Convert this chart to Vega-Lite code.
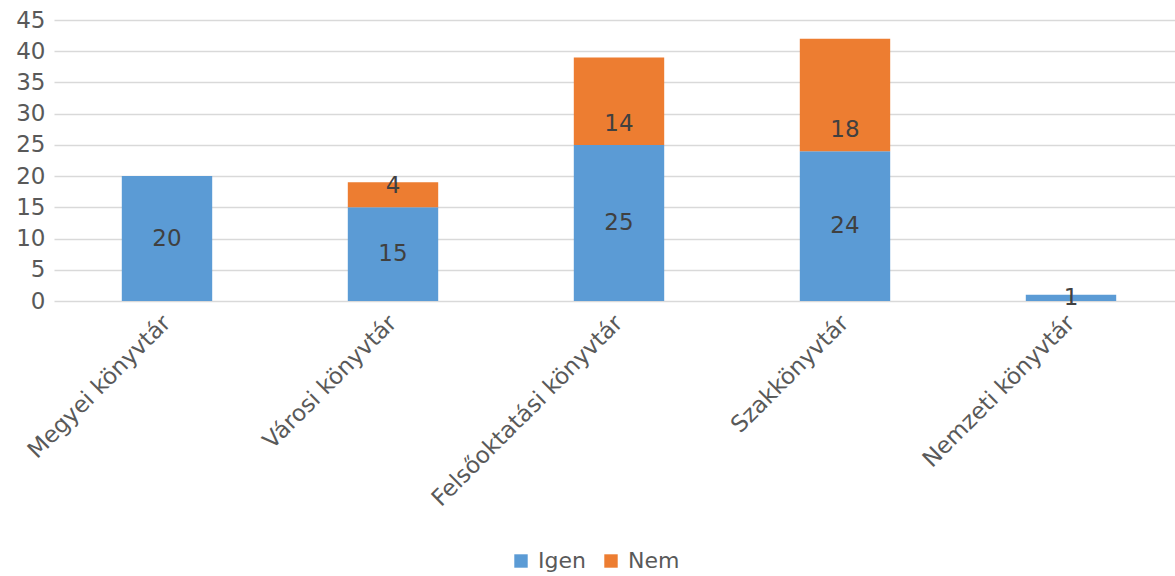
{
  "$schema": "https://vega.github.io/schema/vega-lite/v6.json",
  "autosize": {"type": "none"},
  "width": 1121,
  "height": 281,
  "padding": {"left": 54, "top": 20, "right": 0, "bottom": 275},
  "background": "white",
  "config": {
    "font": "DejaVu Sans",
    "view": {"stroke": null},
    "axisY": {
      "title": null,
      "labelFontSize": 23,
      "labelColor": "#595959",
      "labelPadding": 9,
      "labelOverlap": false,
      "labelBound": false,
      "ticks": false,
      "domain": false,
      "grid": true,
      "gridColor": "#d9d9d9",
      "gridWidth": 1.5
    }
  },
  "data": {
    "values": [
      {"cat": "Megyei könyvtár", "order": 1, "series": "Igen", "value": 20},
      {"cat": "Városi könyvtár", "order": 1, "series": "Igen", "value": 15},
      {"cat": "Városi könyvtár", "order": 2, "series": "Nem", "value": 4},
      {"cat": "Felsőoktatási könyvtár", "order": 1, "series": "Igen", "value": 25},
      {"cat": "Felsőoktatási könyvtár", "order": 2, "series": "Nem", "value": 14},
      {"cat": "Szakkönyvtár", "order": 1, "series": "Igen", "value": 24},
      {"cat": "Szakkönyvtár", "order": 2, "series": "Nem", "value": 18},
      {"cat": "Nemzeti könyvtár", "order": 1, "series": "Igen", "value": 1}
    ]
  },
  "encoding": {
    "x": {
      "field": "cat",
      "type": "nominal",
      "sort": ["Megyei könyvtár", "Városi könyvtár", "Felsőoktatási könyvtár", "Szakkönyvtár", "Nemzeti könyvtár"],
      "scale": {"range": [0, 1130], "paddingInner": 0.6, "paddingOuter": 0.3},
      "axis": {
        "title": null,
        "labelAngle": -45,
        "labelAlign": "right",
        "labelBaseline": "middle",
        "labelFontSize": 23,
        "labelColor": "#595959",
        "labelPadding": 18,
        "labelLimit": 0,
        "labelOverlap": false,
        "ticks": false,
        "domain": false,
        "grid": false
      }
    }
  },
  "layer": [
    {
      "mark": {"type": "bar"},
      "encoding": {
        "y": {
          "field": "value",
          "type": "quantitative",
          "stack": "zero",
          "scale": {"domain": [0, 45], "nice": false},
          "axis": {"title": null, "values": [0, 5, 10, 15, 20, 25, 30, 35, 40, 45]}
        },
        "order": {"field": "order", "type": "quantitative"},
        "color": {
          "field": "series",
          "type": "nominal",
          "scale": {"domain": ["Igen", "Nem"], "range": ["#5b9bd5", "#ed7d31"]},
          "legend": {
            "title": null,
            "orient": "none",
            "direction": "horizontal",
            "legendX": 456,
            "legendY": 530,
            "symbolType": "square",
            "symbolSize": 180,
            "symbolStrokeWidth": 0,
            "labelFontSize": 22,
            "labelColor": "#595959",
            "columnPadding": 14,
            "labelOffset": 6
          }
        }
      }
    },
    {
      "mark": {"type": "text", "fontSize": 23, "color": "#404040", "baseline": "middle"},
      "encoding": {
        "y": {"field": "value", "type": "quantitative", "stack": "zero", "bandPosition": 0.5,
              "axis": {"title": null, "values": [0, 5, 10, 15, 20, 25, 30, 35, 40, 45]}},
        "order": {"field": "order", "type": "quantitative"},
        "text": {"field": "value", "type": "quantitative"},
        "opacity": {"condition": {"test": "datum.series === 'Igen'", "value": 1}, "value": 0}
      }
    },
    {
      "transform": [
        {"stack": "value", "groupby": ["cat"], "sort": [{"field": "order"}], "as": ["v0", "v1"]},
        {"filter": "datum.series === 'Nem'"}
      ],
      "mark": {"type": "text", "fontSize": 23, "color": "#404040", "baseline": "middle", "dy": -21},
      "encoding": {
        "y": {"field": "v0", "type": "quantitative",
              "axis": {"title": null, "values": [0, 5, 10, 15, 20, 25, 30, 35, 40, 45]}},
        "text": {"field": "value", "type": "quantitative"}
      }
    }
  ]
}
